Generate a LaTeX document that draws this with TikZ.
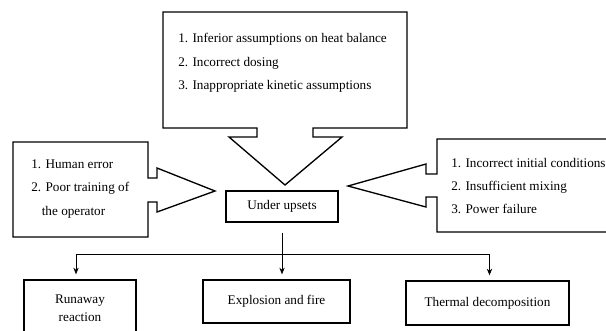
\documentclass[tikz,border=0pt]{standalone}
\usepackage{fontspec}
\setmainfont{Liberation Serif}
\usetikzlibrary{arrows.meta}
\tikzset{
  callout/.style={draw,line width=1pt,fill=white,line join=miter},
  outcome/.style={draw,line width=1pt,align=center,inner sep=0pt,
    font={\fontsize{9.9}{13.5}\selectfont}},
  causes/.style={anchor=west,align=left,inner sep=0pt,
    font={\fontsize{9.9}{17.5}\selectfont}},
  arr/.style={-{Stealth[length=5pt,width=4pt]},line width=0.6pt}
}
\begin{document}
\begin{tikzpicture}[x=0.75pt,y=-0.75pt]
   \useasboundingbox (0,0) rectangle (606,330);
   \clip (0,0) rectangle (606,330);
   % callouts
   \draw[callout] (163,12) -- (407,12) -- (407,128) -- (313,128) -- (313,137)
     -- (342,137) -- (285,185) -- (229,137) -- (257,137) -- (257,128)
     -- (163,128) -- cycle;
   \draw[callout] (13,142) -- (148,142) -- (148,178) -- (157,178) -- (157,168)
     -- (215,191) -- (157,212) -- (157,202) -- (148,202) -- (148,237)
     -- (13,237) -- cycle;
   \draw[callout] (612,139) -- (437,139) -- (437,174) -- (426,174) -- (426,164)
     -- (348,186) -- (426,207) -- (426,197) -- (437,197) -- (437,232)
     -- (612,232);
   \node[causes] (heat) at (178,63) {1. Inferior assumptions on heat balance\\
     2. Incorrect dosing\\3. Inappropriate kinetic assumptions};
   \node[causes] (human) at (31,189) {1. Human error\\2. Poor training of\\
     \hspace{0.8em}the operator};
   \node[causes] (mixing) at (451,186) {1. Incorrect initial conditions\\
     2. Insufficient mixing\\3. Power failure};
   % outcomes
   \node[outcome,minimum width=84pt,minimum height=23.25pt] (upset)
     at (282,206.5) {Under upsets};
   \node[outcome,minimum width=84pt,minimum height=42pt] (runaway)
     at (80,308) {Runaway\\reaction};
   \node[outcome,minimum width=110.25pt,minimum height=32.25pt] (fire)
     at (276.5,301.5) {Explosion and fire};
   \node[outcome,minimum width=122.25pt,minimum height=33pt] (thermal)
     at (487.5,303) {Thermal decomposition};
   \coordinate (bus) at (upset.south |- 0,254);
   \draw[arr,shorten <=7.5pt,shorten >=3.75pt] (upset.south) -- (upset.south |- fire.north);
   \draw[arr,shorten >=3.75pt] (bus) -| ([xshift=-3pt]runaway.north);
   \draw[arr,shorten >=3.75pt] (bus) -| ([xshift=1.5pt]thermal.north);
\end{tikzpicture}
\end{document}
